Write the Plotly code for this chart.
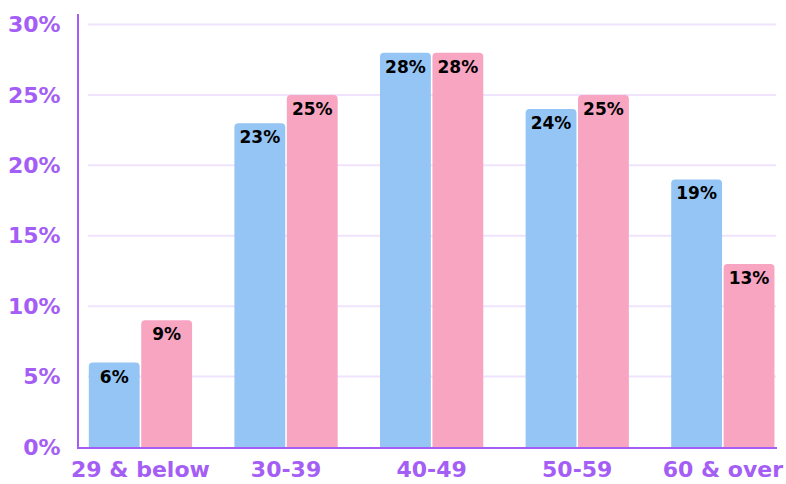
import plotly.graph_objects as go

# Age bands and the share of each group (percent)
age_groups = ["29 & below", "30-39", "40-49", "50-59", "60 & over"]
blue_share = [6, 23, 28, 24, 19]
pink_share = [9, 25, 28, 25, 13]
y_ticks = [0, 5, 10, 15, 20, 25, 30]

PURPLE = "#a45ef5"
GRID = "#efe3fd"
BLUE = "#94c5f4"
PINK = "#f8a5c2"
FONT = "DejaVu Sans"

fig = go.Figure()
for vals, color in [(blue_share, BLUE), (pink_share, PINK)]:
    fig.add_trace(go.Bar(
        x=age_groups,
        y=vals,
        marker=dict(color=color, line=dict(width=0)),
        text=[f"{v}%" for v in vals],
        textposition="inside",
        insidetextanchor="end",
        textangle=0,
        textfont=dict(family=FONT, size=17, color="black", weight="bold"),
        cliponaxis=False,
        hoverinfo="skip",
    ))

# Horizontal gridlines drawn behind the bars
for t in y_ticks[1:]:
    fig.add_shape(type="line", xref="x", yref="y", x0=-0.36, x1=4.365, y0=t, y1=t,
                  line=dict(color=GRID, width=2), layer="below")

fig.update_layout(
    width=786, height=484,
    margin=dict(l=79, r=9, t=14, b=37, autoexpand=False),
    paper_bgcolor="white", plot_bgcolor="white",
    barmode="group", bargap=0.28, bargroupgap=0.03,
    barcornerradius=4,
    showlegend=False,
    uniformtext=dict(mode="show", minsize=10),
)
fig.update_xaxes(
    range=[-0.422, 4.372], automargin=False,
    showgrid=False, showline=True, linecolor=PURPLE, linewidth=2,
    ticks="", ticklabelstandoff=2,
    tickfont=dict(family=FONT, size=22, color=PURPLE, weight="bold"),
)
fig.update_yaxes(
    range=[0, 30.75], automargin=False,
    tickvals=y_ticks, ticktext=[f"{t}%" for t in y_ticks],
    showgrid=False, zeroline=False, showline=True, linecolor=PURPLE, linewidth=2,
    ticks="", ticklabelstandoff=12,
    tickfont=dict(family=FONT, size=22, color=PURPLE, weight="bold"),
)

fig.write_html("out.html")
